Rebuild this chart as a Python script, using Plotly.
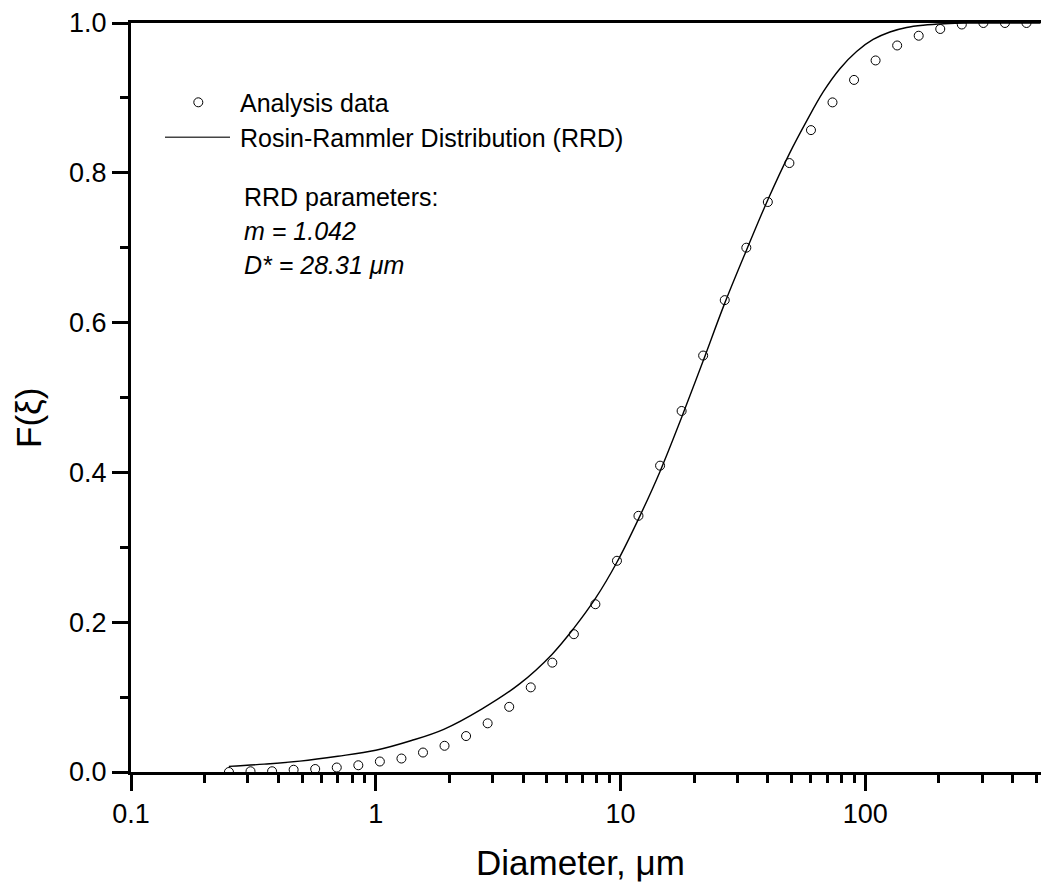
import plotly.graph_objects as go

# ---- data ----
diam_data = [0.2513, 0.3078, 0.3771, 0.4618, 0.5657, 0.6929, 0.8487, 1.0394,
             1.2733, 1.5595, 1.9098, 2.3388, 2.8650, 3.5097, 4.2983, 5.2649,
             6.4475, 7.8943, 9.6717, 11.84, 14.51, 17.77, 21.76, 26.66, 32.66,
             39.99, 48.98, 60.00, 73.47, 89.99, 110.2, 135.0, 165.3, 202.5,
             248.0, 303.8, 372.1, 455.7]
frac_data = [0.000, 0.001, 0.001, 0.003, 0.004, 0.006, 0.009, 0.014,
             0.018, 0.026, 0.035, 0.048, 0.065, 0.087, 0.113, 0.146,
             0.184, 0.224, 0.282, 0.342, 0.409, 0.482, 0.556, 0.630, 0.700,
             0.761, 0.813, 0.857, 0.894, 0.924, 0.950, 0.970, 0.983, 0.992,
             0.998, 1.000, 1.000, 1.000]

diam_rrd = [0.251, 0.35, 0.49, 0.70, 1.0, 1.4, 1.896, 2.708, 3.881, 5.247, 6.451,
            7.911, 9.667, 11.81, 14.49, 17.70, 21.71, 26.52, 32.74, 40.12, 48.88,
            57.57, 67.31, 78.76, 92.15, 107.7, 126.1, 147.5, 172.4, 210.0, 260.0,
            350.0, 520.0]
frac_rrd = [0.0075, 0.0105, 0.0145, 0.021, 0.029, 0.042, 0.057, 0.084, 0.118,
            0.157, 0.192, 0.232, 0.280, 0.337, 0.401, 0.472, 0.548, 0.624,
            0.697, 0.765, 0.825, 0.869, 0.908, 0.939, 0.962, 0.978, 0.988,
            0.994, 0.997, 0.999, 1.000, 1.000, 1.000]

x_major = [0.1, 1, 10, 100]
x_major_text = ["0.1", "1", "10", "100"]
x_minor = [0.2, 0.3, 0.4, 0.5, 0.6, 0.7, 0.8, 0.9,
           2, 3, 4, 5, 6, 7, 8, 9,
           20, 30, 40, 50, 60, 70, 80, 90,
           200, 300, 400, 500]

legend_labels = ["Analysis data", "Rosin-Rammler Distribution (RRD)"]
param_lines = ["RRD parameters:", "<i>m = 1.042</i>", "<i>D* = 28.31 \u03bcm</i>"]

FONT = "Arial, Liberation Sans, sans-serif"

# plot area geometry (pixels)
L, R, T, B = 131, 1, 23, 112
W, H = 1042, 884
PW, PH = W - L - R, H - T - B


def px(xpix):
    return (xpix - L) / PW


def py(ypix):
    return (H - B - ypix) / PH


fig = go.Figure()
fig.add_trace(go.Scatter(
    x=diam_rrd, y=frac_rrd, mode="lines", name=legend_labels[1],
    line=dict(color="black", width=1.4, shape="spline", smoothing=1.0),
    showlegend=False))
fig.add_trace(go.Scatter(
    x=diam_data, y=frac_data, mode="markers", name=legend_labels[0],
    marker=dict(symbol="circle-open", size=9, color="black",
                line=dict(width=1, color="black")),
    showlegend=False))

fig.update_layout(
    width=W, height=H,
    margin=dict(l=L, r=R, t=T, b=B, autoexpand=False),
    paper_bgcolor="white", plot_bgcolor="white",
    font=dict(family=FONT, color="black", size=27),
    showlegend=False,
)

fig.update_xaxes(
    type="log", range=[-1, 2.718],
    showgrid=False, zeroline=False,
    showline=True, linecolor="black", linewidth=3, mirror=True,
    ticks="outside", ticklen=16, tickwidth=2.5, tickcolor="black",
    tickmode="array", tickvals=x_major, ticktext=x_major_text,
    tickfont=dict(size=27, family=FONT, color="black"),
    minor=dict(ticks="outside", ticklen=8, tickwidth=2.5, tickcolor="black",
               tickmode="array", tickvals=x_minor, showgrid=False),
)
fig.update_yaxes(
    range=[0, 1],
    showgrid=False, zeroline=False,
    showline=True, linecolor="black", linewidth=3, mirror=False,
    ticks="outside", ticklen=16, tickwidth=2.5, tickcolor="black",
    dtick=0.2, tick0=0, tickformat=".1f",
    tickfont=dict(size=27, family=FONT, color="black"),
    minor=dict(ticks="outside", ticklen=8, tickwidth=2.5, tickcolor="black",
               dtick=0.1, showgrid=False),
)

# axis titles
fig.add_annotation(text="Diameter, \u03bcm", xref="paper", yref="paper",
                   x=px(580.5), y=py(863), xanchor="center", yanchor="middle",
                   showarrow=False, font=dict(size=35, family=FONT, color="black"))
fig.add_annotation(text="F(\u03be)", xref="paper", yref="paper",
                   x=px(28), y=py(418), xanchor="center", yanchor="middle",
                   textangle=-90, showarrow=False,
                   font=dict(size=35, family=FONT, color="black"))

# legend (drawn manually to match the sample sizes)
fig.add_shape(type="circle", xref="paper", yref="paper",
              x0=px(198.3 - 4.5), x1=px(198.3 + 4.5),
              y0=py(102.3 + 4.5), y1=py(102.3 - 4.5),
              line=dict(color="black", width=1))
fig.add_shape(type="line", xref="paper", yref="paper",
              x0=px(165), x1=px(230), y0=py(137.3), y1=py(137.3),
              line=dict(color="#444444", width=1.5))
for txt, base in zip(legend_labels, [111.7, 146.7]):
    fig.add_annotation(text=txt, xref="paper", yref="paper",
                       x=px(238), y=py(base - 8.7), xanchor="left", yanchor="middle",
                       showarrow=False, font=dict(size=25, family=FONT, color="black"))

for txt, base in zip(param_lines, [205.7, 240.0, 273.3]):
    fig.add_annotation(text=txt, xref="paper", yref="paper",
                       x=px(242), y=py(base - 8.7), xanchor="left", yanchor="middle",
                       showarrow=False, font=dict(size=25, family=FONT, color="black"))

fig.write_html("out.html")
